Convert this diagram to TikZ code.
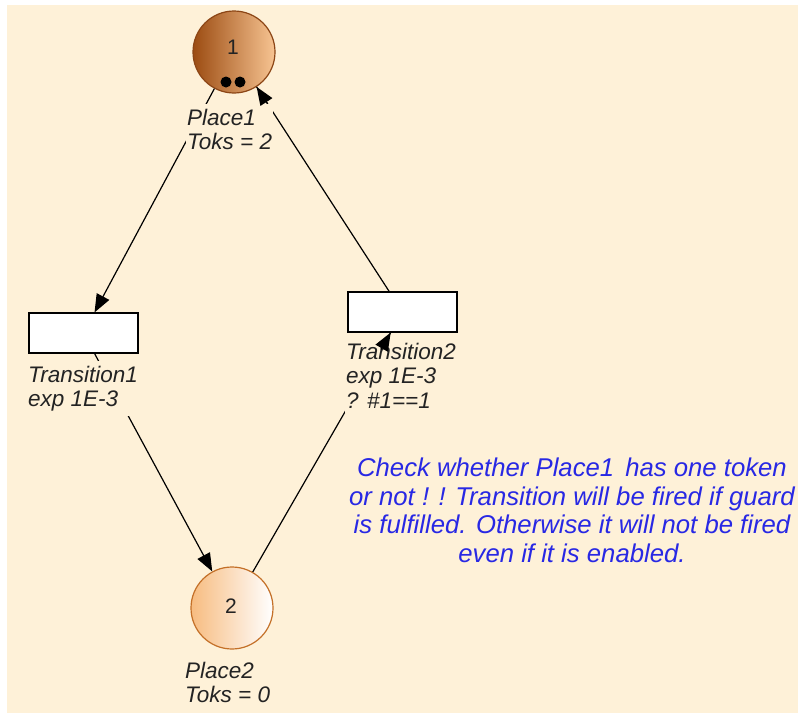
\documentclass[tikz,border=0pt]{standalone}
\usepackage{fontspec}
\setmainfont{Liberation Sans}
\usetikzlibrary{arrows.meta}
\definecolor{paper}{RGB}{254,241,216}
\definecolor{placeonedark}{RGB}{156,76,18}
\definecolor{placeonelight}{RGB}{247,196,146}
\definecolor{placeoneedge}{RGB}{140,70,22}
\definecolor{placetwoleft}{RGB}{247,188,128}
\definecolor{placetwoedge}{RGB}{196,112,40}
\definecolor{notecolor}{RGB}{40,40,228}
\definecolor{labelink}{RGB}{35,35,35}

\begin{document}
\begin{tikzpicture}[x=1pt,y=-1pt,
  place/.style={circle, minimum size=82pt, inner sep=0pt, line width=1.2pt},
  digit/.style={inner sep=0pt, font=\fontsize{21}{24}\selectfont, text=labelink},
  transition/.style={rectangle, draw=black, fill=white, line width=1.2pt,
    minimum width=109pt, minimum height=40pt, inner sep=0pt},
  tag/.style={anchor=north west, align=left, fill=paper, inner xsep=1pt,
    inner ysep=5pt, font=\fontsize{22.5}{24.5}\selectfont\itshape, text=labelink},
  note/.style={anchor=north, align=center, inner sep=0pt,
    font=\fontsize{25.7}{28.5}\selectfont\itshape, text=notecolor},
  arc/.style={line width=1.2pt, draw=black},
  tip/.style={-{Triangle[length=18pt,width=14pt]}},
  token/.style={circle, fill=black, inner sep=0pt, minimum size=11pt}
]
% canvas
\fill[white] (0,0) rectangle (798,715);
\fill[paper] (7,5) rectangle (798,713);

% places and transitions
\node[place, draw=placeoneedge, left color=placeonedark, right color=placeonelight] (p1) at (234,52) {};
\node[digit] (p1num) at (233,47) {1};
\node[token] (tok1) at (226,82) {};
\node[token] (tok2) at (240,82) {};

\node[place, draw=placetwoedge, left color=placetwoleft, right color=white] (p2) at (232,608) {};
\node[digit] (p2num) at (231,606) {2};

\node[transition] (t1) at (83.5,333) {};
\node[transition] (t2) at (402.5,312) {};

% arcs
\draw[arc, tip] (p1) -- (t1);
\draw[arc, tip] (t1) -- (p2);
\draw[arc] (p2) -- (t2) coordinate[pos=0.93] (p2t2head);
\draw[arc] (t2) -- (p1) coordinate[pos=0.92] (t2p1head);

% labels (opaque, they hide the arcs passing behind them)
\node[tag] (p1tag) at (186,103.6) {Place1\\Toks = 2};
\node[tag] (t1tag) at (27,360.6) {Transition1\\exp 1E-3};
\node[tag] (t2tag) at (345,337.6) {Transition2\\exp 1E-3\\? \#1==1};
\node[tag] (p2tag) at (184,656.6) {Place2\\Toks = 0};

% arrow heads stay on top of the labels
\draw[arc, tip] (p2t2head) -- (t2);
\draw[arc, tip] (t2p1head) -- (p1);

% comment
\node[note] (remark) at (572,458) {Check whether Place1\hspace{4pt} has one token\\or not ! ! Transition will be fired if guard\\is fulfilled. Otherwise it will not be fired\\even if it is enabled.};
\end{tikzpicture}
\end{document}
